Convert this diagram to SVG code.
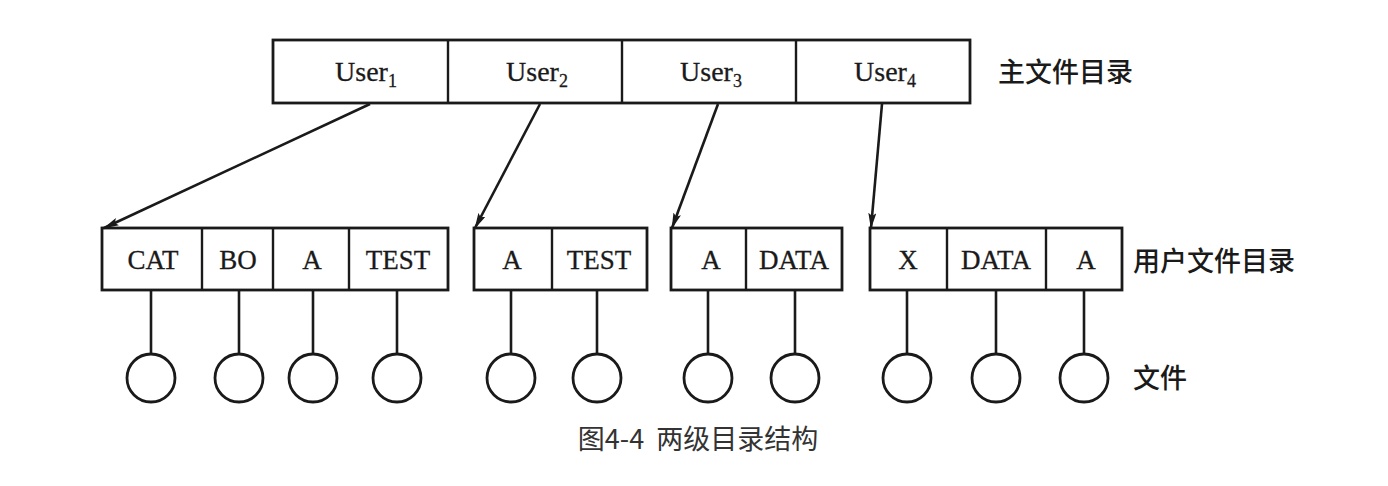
<svg xmlns="http://www.w3.org/2000/svg" width="1388" height="486" viewBox="0 0 1388 486">
<style>
.box{fill:#fff;stroke:#1a1a1a;stroke-width:2.8}
.div{stroke:#1a1a1a;stroke-width:2.4}
.lbl{font-family:"Liberation Serif","Times New Roman",serif;font-size:27px;fill:#1a1a1a;text-anchor:middle;stroke:#1a1a1a;stroke-width:0.3}
.top{font-size:28px}
.sub{font-size:18px}
.cjk{font-family:"Noto Sans CJK SC","Noto Sans",sans-serif;font-size:27px;fill:#1a1a1a;font-weight:500}
.cap{font-family:"Noto Sans CJK SC","Noto Sans",sans-serif;font-size:27px;fill:#333;text-anchor:middle;white-space:pre}
.stem{stroke:#1a1a1a;stroke-width:2.6}
.file{fill:#fff;stroke:#1a1a1a;stroke-width:2.8}
.arr{stroke:#1a1a1a;stroke-width:2.6;fill:none;marker-end:url(#ah)}
</style>
<defs>
<marker id="ah" viewBox="0 0 16 8" refX="15" refY="4" markerWidth="16" markerHeight="8" markerUnits="userSpaceOnUse" orient="auto">
<path d="M0,0 L16,4 L0,8 L3,4 Z" fill="#1a1a1a"/>
</marker>
</defs>
<rect width="1388" height="486" fill="#fff"/>

<g id="mfd">
<rect class="box" x="273" y="40" width="697" height="63"/>
<line class="div" x1="448" y1="40" x2="448" y2="103"/>
<line class="div" x1="622" y1="40" x2="622" y2="103"/>
<line class="div" x1="796" y1="40" x2="796" y2="103"/>
<text class="lbl top" x="366" y="81">User<tspan class="sub" dy="6">1</tspan></text>
<text class="lbl top" x="537" y="81">User<tspan class="sub" dy="6">2</tspan></text>
<text class="lbl top" x="711" y="81">User<tspan class="sub" dy="6">3</tspan></text>
<text class="lbl top" x="885" y="81">User<tspan class="sub" dy="6">4</tspan></text>
</g>
<text id="label-mfd" class="cjk" x="998" y="82">主文件目录</text>

<g id="ufd1">
<rect class="box" x="102" y="228" width="346" height="62"/>
<line class="div" x1="202" y1="228" x2="202" y2="290"/>
<line class="div" x1="273" y1="228" x2="273" y2="290"/>
<line class="div" x1="349" y1="228" x2="349" y2="290"/>
<text class="lbl" x="153" y="269">CAT</text>
<text class="lbl" x="238" y="269">BO</text>
<text class="lbl" x="312" y="269">A</text>
<text class="lbl" x="398" y="269">TEST</text>
</g>
<g id="ufd2">
<rect class="box" x="474" y="228" width="173" height="62"/>
<line class="div" x1="552" y1="228" x2="552" y2="290"/>
<text class="lbl" x="512" y="269">A</text>
<text class="lbl" x="599" y="269">TEST</text>
</g>
<g id="ufd3">
<rect class="box" x="671" y="228" width="171" height="62"/>
<line class="div" x1="746" y1="228" x2="746" y2="290"/>
<text class="lbl" x="711" y="269">A</text>
<text class="lbl" x="794" y="269">DATA</text>
</g>
<g id="ufd4">
<rect class="box" x="870" y="228" width="252" height="62"/>
<line class="div" x1="947" y1="228" x2="947" y2="290"/>
<line class="div" x1="1046" y1="228" x2="1046" y2="290"/>
<text class="lbl" x="908" y="269">X</text>
<text class="lbl" x="996" y="269">DATA</text>
<text class="lbl" x="1086" y="269">A</text>
</g>
<text id="label-ufd" class="cjk" x="1133" y="271">用户文件目录</text>

<g id="connectors">
<line class="arr" x1="370" y1="104" x2="104" y2="228"/>
<line class="arr" x1="540" y1="104" x2="475" y2="228"/>
<line class="arr" x1="718" y1="104" x2="672" y2="228"/>
<line class="arr" x1="882" y1="104" x2="871" y2="228"/>
<line class="stem" x1="151" y1="290" x2="151" y2="354"/>
<line class="stem" x1="239" y1="290" x2="239" y2="354"/>
<line class="stem" x1="313" y1="290" x2="313" y2="354"/>
<line class="stem" x1="397" y1="290" x2="397" y2="354"/>
<line class="stem" x1="511" y1="290" x2="511" y2="354"/>
<line class="stem" x1="597" y1="290" x2="597" y2="354"/>
<line class="stem" x1="708" y1="290" x2="708" y2="354"/>
<line class="stem" x1="795" y1="290" x2="795" y2="354"/>
<line class="stem" x1="907" y1="290" x2="907" y2="354"/>
<line class="stem" x1="996" y1="290" x2="996" y2="354"/>
<line class="stem" x1="1084" y1="290" x2="1084" y2="354"/>
</g>

<g id="files">
<circle class="file" cx="151" cy="378" r="24"/>
<circle class="file" cx="239" cy="378" r="24"/>
<circle class="file" cx="313" cy="378" r="24"/>
<circle class="file" cx="397" cy="378" r="24"/>
<circle class="file" cx="511" cy="378" r="24"/>
<circle class="file" cx="597" cy="378" r="24"/>
<circle class="file" cx="708" cy="378" r="24"/>
<circle class="file" cx="795" cy="378" r="24"/>
<circle class="file" cx="907" cy="378" r="24"/>
<circle class="file" cx="996" cy="378" r="24"/>
<circle class="file" cx="1084" cy="378" r="24"/>
</g>
<text id="label-file" class="cjk" x="1133" y="388">文件</text>

<text id="caption" class="cap" x="698" y="449" xml:space="preserve">图4-4  两级目录结构</text>
</svg>
